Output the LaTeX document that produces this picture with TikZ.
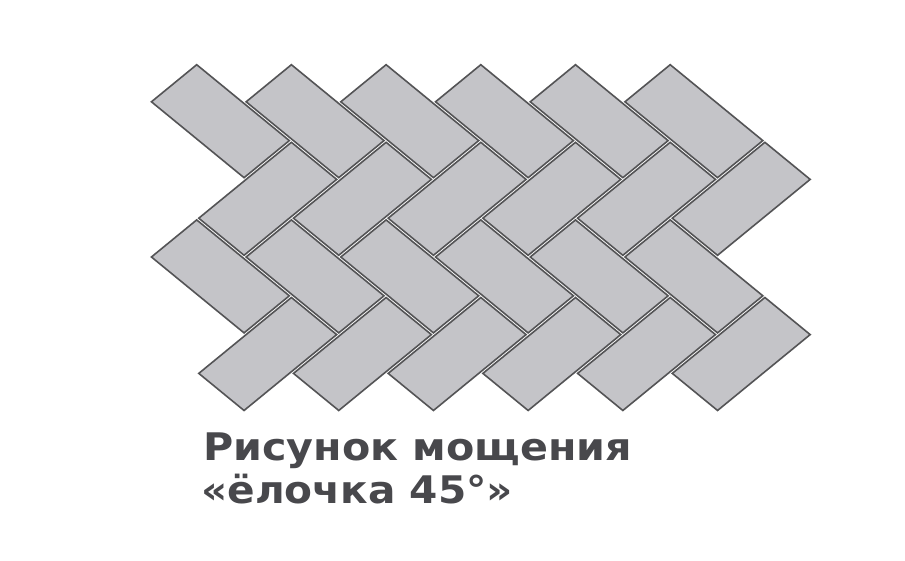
\documentclass[tikz,border=0pt]{standalone}
\usepackage{fontspec}
\setmainfont{DejaVu Sans}
\definecolor{brickfill}{RGB}{196,196,200}
\definecolor{brickline}{RGB}{84,84,86}
\definecolor{captiontext}{RGB}{72,72,76}
\begin{document}
\begin{tikzpicture}[x=1pt,y=-1pt,
  brick/.style={fill=brickfill,draw=brickline,line width=1.6pt,line join=miter},
  caption/.style={anchor=base west,inner sep=0pt,text=captiontext,font=\fontsize{38}{46}\selectfont\bfseries}]
\fill[white] (0,0) rectangle (905,561);
\useasboundingbox (0,0) rectangle (905,561);
\begin{scope}[shift={(149.35,101.8)},x={(47.35pt,-38.8pt)},y={(47.35pt,38.8pt)}]
  \def\d{0.022}
  % bricks with long side running down to the right
  \foreach \b in {0,1}{
    \foreach \a in {0,...,5}{
      \pgfmathsetmacro\sx{\a+2*\b}
      \pgfmathsetmacro\sy{\a-2*\b}
      \draw[brick] (\sx+\d,\sy+\d) -- (\sx+2-\d,\sy+\d) -- (\sx+2-\d,\sy+1-\d) -- (\sx+\d,\sy+1-\d) -- cycle;
    }
  }
  % bricks with long side running up to the right
  \foreach \b in {1,2}{
    \foreach \a in {0,...,5}{
      \pgfmathsetmacro\sx{\a+2*\b}
      \pgfmathsetmacro\sy{\a-2*\b}
      \draw[brick] (\sx+\d,\sy+1+\d) -- (\sx+1-\d,\sy+1+\d) -- (\sx+1-\d,\sy+3-\d) -- (\sx+\d,\sy+3-\d) -- cycle;
    }
  }
\end{scope}
\node[caption] (line1) at (203,460) {\scalebox{1.085}[1]{Рисунок мощения}};
\node[caption] (line2) at (201,503) {\scalebox{1.07}[1]{«ёлочка 45°»}};
\end{tikzpicture}
\end{document}
